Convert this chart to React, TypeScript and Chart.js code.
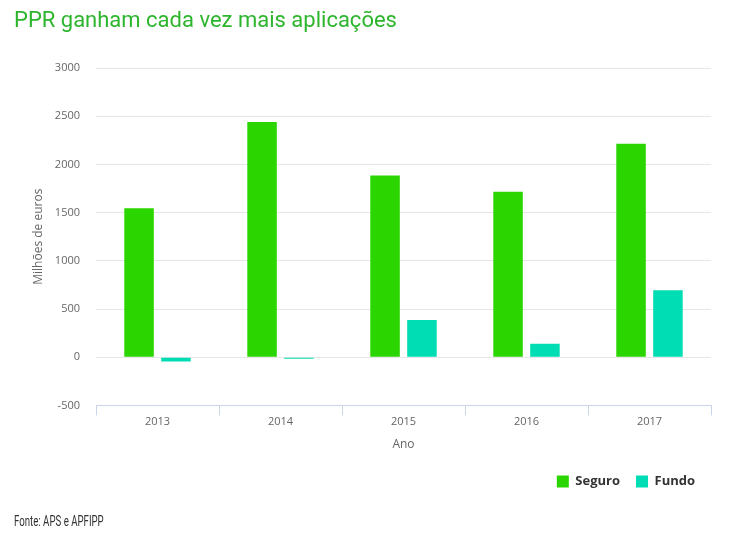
import React, { useEffect, useRef } from "react";
import { Chart, registerables } from "chart.js";

Chart.register(...registerables);

const years = ["2013", "2014", "2015", "2016", "2017"];
const seguro = [1545, 2440, 1885, 1715, 2215];
const fundo = [-45, -15, 385, 140, 695];
const yTicks = [-500, 0, 500, 1000, 1500, 2000, 2500, 3000];

const axisFont = { family: "'Open Sans', 'Noto Sans', sans-serif", size: 11 };

export default function App() {
  const canvasRef = useRef<HTMLCanvasElement>(null);

  useEffect(() => {
    if (!canvasRef.current) return;
    const chart = new Chart(canvasRef.current, {
      type: "bar",
      data: {
        labels: years,
        datasets: [
          {
            label: "Seguro",
            data: seguro,
            backgroundColor: "#2bd600",
            barPercentage: 0.8,
            categoryPercentage: 0.6,
          },
          {
            label: "Fundo",
            data: fundo,
            backgroundColor: "#00ddb4",
            barPercentage: 0.8,
            categoryPercentage: 0.6,
          },
        ],
      },
      options: {
        animation: false,
        responsive: false,
        maintainAspectRatio: false,
        layout: { padding: { top: 68, left: 31, right: 39, bottom: 52 } },
        plugins: {
          legend: {
            position: "bottom",
            align: "end",
            labels: {
              boxWidth: 12,
              boxHeight: 12,
              padding: 16,
              color: "#333333",
              font: {
                family: "'Open Sans', 'Noto Sans', sans-serif",
                size: 13,
                weight: "bold",
              },
            },
          },
          tooltip: { enabled: false },
        },
        scales: {
          x: {
            offset: true,
            grid: {
              offset: true,
              drawOnChartArea: false,
              drawTicks: true,
              tickLength: 10,
              color: "#ccd6eb",
            },
            border: { display: true, color: "#ccd6eb" },
            ticks: { color: "#666666", font: axisFont, padding: 0 },
            title: {
              display: true,
              text: "Ano",
              color: "#666666",
              font: { ...axisFont, size: 12 },
              padding: { top: 9, bottom: 7 },
            },
          },
          y: {
            min: -500,
            max: 3000,
            afterBuildTicks: (scale) => {
              scale.ticks = yTicks.map((v) => ({ value: v }));
            },
            afterFit: (scale) => {
              scale.width = 65;
            },
            grid: { color: "#e6e6e6", drawTicks: false },
            border: { display: false },
            ticks: {
              color: "#666666",
              font: axisFont,
              padding: 16,
              callback: (value) => String(value),
            },
            title: {
              display: true,
              text: "Milhões de euros",
              color: "#666666",
              font: { ...axisFont, size: 12 },
              padding: { top: 0, bottom: 0 },
            },
          },
        },
      },
    });
    return () => chart.destroy();
  }, []);

  return (
    <div
      style={{
        position: "fixed",
        left: 0,
        top: 0,
        width: 750,
        height: 550,
        background: "#ffffff",
      }}
    >
      <canvas
        ref={canvasRef}
        width={750}
        height={550}
        style={{ position: "absolute", left: 0, top: 0 }}
      />
      <div
        style={{
          position: "absolute",
          left: 14,
          top: 7,
          fontFamily: "Roboto, 'Noto Sans', sans-serif",
          fontSize: 22,
          color: "#2eb52e",
          whiteSpace: "nowrap",
        }}
      >
        PPR ganham cada vez mais aplicações
      </div>
      <div
        style={{
          position: "absolute",
          left: 14,
          top: 513,
          fontFamily: "Roboto, sans-serif",
          fontSize: 14,
          color: "#333333",
          whiteSpace: "nowrap",
          transform: "scaleX(0.69)",
          transformOrigin: "left top",
        }}
      >
        Fonte: APS e APFIPP
      </div>
    </div>
  );
}
